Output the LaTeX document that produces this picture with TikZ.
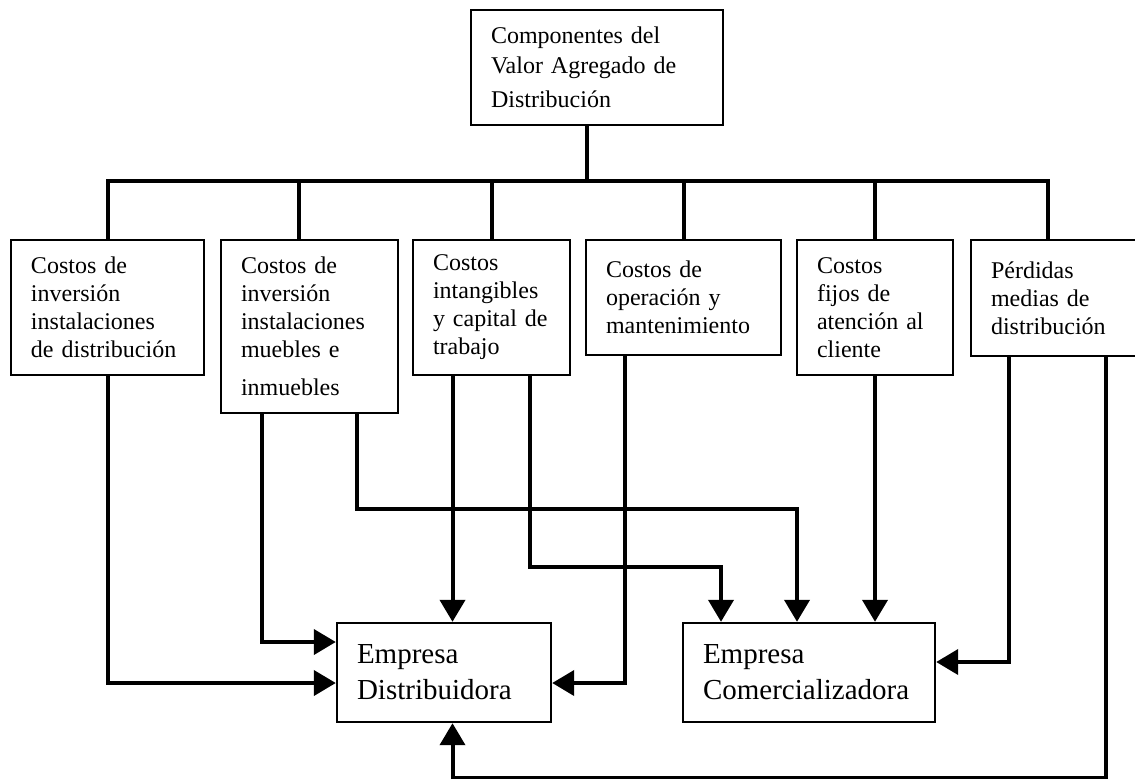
\documentclass[tikz,border=0pt]{standalone}
\usepackage{fontspec}
\setmainfont{Liberation Serif}
\usepackage{tikz}
\usetikzlibrary{arrows.meta,calc}

\begin{document}
\begin{tikzpicture}[
      x=0.5pt, y=-0.5pt,
      every node/.style={align=left},
      compbox/.style={rectangle, draw=black, line width=1.2pt,
        inner xsep=10pt, font=\fontsize{12}{14}\selectfont},
      firmbox/.style={rectangle, draw=black, line width=1.2pt,
        inner xsep=10pt, font=\fontsize{14.5}{18}\selectfont},
      tree/.style={line width=2pt},
      arr/.style={-{Triangle[length=11pt,width=12.5pt]}, line width=2pt},
    ]
    \useasboundingbox (0,0) rectangle (1135,778);

    % ── ROOT ────────────────────────────────────────────────────
    \node[compbox, text width=106pt, minimum height=57.5pt,
      font=\fontsize{12}{15}\selectfont] (top) at (597,67.5)
      {Componentes del\\Valor Agregado de\\[2pt]Distribución};

    % ── COST COMPONENTS ─────────────────────────────────────────
    \node[compbox, text width=76.5pt, minimum height=67.5pt] (b1) at (107.5,307.5)
      {Costos de\\inversión\\instalaciones\\de distribución};
    \node[compbox, text width=68.5pt, minimum height=86.5pt] (b2) at (309.5,326.5)
      {Costos de\\inversión\\instalaciones\\muebles e\\[5pt]inmuebles};
    \node[compbox, text width=58.5pt, minimum height=67.5pt] (b3) at (491.5,307.5)
      {Costos\\intangibles\\y capital de\\trabajo};
    \node[compbox, text width=77.5pt, minimum height=57.5pt] (b4) at (683.5,297.5)
      {Costos de\\operación y\\mantenimiento};
    \node[compbox, text width=58pt, minimum height=67.5pt] (b5) at (875,307.5)
      {Costos\\fijos de\\atención al\\cliente};
    \node[compbox, text width=64.5pt, minimum height=58pt] (b6) at (1055.5,298)
      {Pérdidas\\medias de\\distribución};

    % ── FIRMS ───────────────────────────────────────────────────
    \node[firmbox, text width=87pt, minimum height=49.5pt] (dist) at (444,672.5)
      {Empresa\\Distribuidora};
    \node[firmbox, text width=106pt, minimum height=49.5pt] (com) at (809,672.5)
      {Empresa\\Comercializadora};

    % ── TREE ────────────────────────────────────────────────────
    \draw[tree] ($(top.south)+(-10,0)$) -- ++(0,57);
    \draw[tree] (b1.north) -- ++(0,-58) -| ($(b6.north)+(-7.5,0)$);
    \foreach \b/\dx in {b2/-10.5, b3/0, b4/0, b5/0}
      \draw[tree] ($(\b.north)+(\dx,0)$) -- ++(0,-58);

    % ── FLOWS TO THE FIRMS ──────────────────────────────────────
    \draw[arr] (b1.south) |- ($(dist.west)+(0,10.5)$);
    \draw[arr] ($(b2.south)+(-47.5,0)$) |- ($(dist.west)+(0,-30.5)$);
    \draw[arr] ($(b2.south)+(47.5,0)$) -- ++(0,94.5) -| ($(com.north)+(-12,0)$);
    \draw[arr] ($(b3.south)+(-39,0)$) -- ($(dist.north)+(8.5,0)$);
    \draw[arr] ($(b3.south)+(38,0)$) -- ++(0,191) -| ($(com.north)+(-88,0)$);
    \draw[arr] ($(b4.south)+(-58.5,0)$) |- ($(dist.east)+(0,10.5)$);
    \draw[arr] (b5.south) -- (b5.south |- com.north);
    \draw[arr] ($(b6.south)+(-46.5,0)$) |- ($(com.east)+(0,-10.5)$);
    \draw[arr] ($(b6.south)+(50,0)$) -- ++(0,421) -| ($(dist.south)+(8.5,0)$);

    \end{tikzpicture}
\end{document}
